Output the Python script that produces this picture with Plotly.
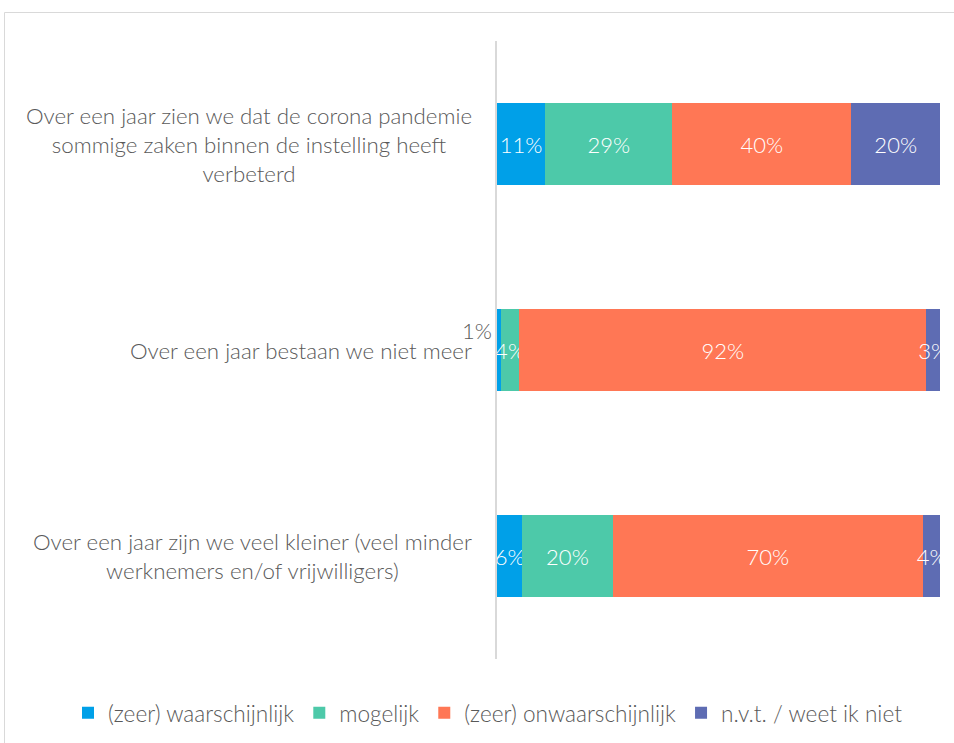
import plotly.graph_objects as go

# ---- data ----
categories = [
    "Over een jaar zien we dat de corona pandemie<br>sommige zaken binnen de instelling heeft<br>verbeterd",
    "Over een jaar bestaan we niet meer",
    "Over een jaar zijn we veel kleiner (veel minder<br>werknemers en/of vrijwilligers)",
]
series_names = ["(zeer) waarschijnlijk", "mogelijk", "(zeer) onwaarschijnlijk", "n.v.t. / weet ik niet"]
waarschijnlijk = [10.9, 0.9, 5.7]
mogelijk = [28.7, 4.1, 20.4]
onwaarschijnlijk = [40.4, 91.9, 70.1]
nvt = [20.0, 3.1, 3.8]

series_values = [waarschijnlijk, mogelijk, onwaarschijnlijk, nvt]
colors = ["#00A0E8", "#4DC9A9", "#FF7755", "#5E6CB3"]

FONT = "Lato"
W, H = 954, 743
ML, MR, MT, MB = 497, 14, 41, 84

fig = go.Figure()
for name, vals, col in zip(series_names, series_values, colors):
    texts = [f"{v:.0f}%" if v >= 2 else "" for v in vals]
    fig.add_trace(go.Bar(
        y=categories, x=vals, name=name, orientation="h",
        marker=dict(color=col, line=dict(width=0)),
        text=texts, textposition="inside", insidetextanchor="middle",
        constraintext="none", cliponaxis=False, textangle=0,
        textfont=dict(family=FONT, size=22, color="white", weight=300),
        hoverinfo="x+name",
    ))

# small value shown outside, left of bar
for cat, v in zip(categories, waarschijnlijk):
    if v < 2:
        fig.add_annotation(x=0, y=cat, xref="x", yref="y", text=f"{v:.0f}%",
                           showarrow=False, xanchor="right", yanchor="middle",
                           xshift=-3, yshift=20,
                           font=dict(family=FONT, size=22, color="#595959", weight=300))

# category labels (centered multi-line, right-anchored)
for cat in categories:
    fig.add_annotation(x=0, y=cat, xref="paper", yref="y", text=cat,
                       showarrow=False, xanchor="right", yanchor="middle",
                       align="center", xshift=-23,
                       font=dict(family=FONT, size=22.3, color="#595959", weight=300))

# outer frame (top and left edges visible)
px = lambda X: (X - ML) / (W - ML - MR)
py = lambda Y: 1 - (Y - MT) / (H - MT - MB)
fig.add_shape(type="line", xref="paper", yref="paper", x0=px(4.5), x1=px(W + 5), y0=py(12.5), y1=py(12.5),
              line=dict(color="#D9D9D9", width=1))
fig.add_shape(type="line", xref="paper", yref="paper", x0=px(4.5), x1=px(4.5), y0=py(12.5), y1=py(H + 5),
              line=dict(color="#D9D9D9", width=1))

fig.update_layout(
    width=W, height=H,
    margin=dict(l=ML, r=MR, t=MT, b=MB, autoexpand=False),
    barmode="stack", bargap=0.6,
    plot_bgcolor="white", paper_bgcolor="white",
    font=dict(family=FONT, size=22, color="#595959", weight=300),
    xaxis=dict(range=[0, 100], showgrid=False, zeroline=False, showticklabels=False,
               showline=False, fixedrange=True),
    yaxis=dict(autorange="reversed", showticklabels=False, showgrid=False, zeroline=False,
               showline=True, linecolor="#D9D9D9", linewidth=1.5, ticks=""),
    showlegend=True,
    legend=dict(orientation="h", xref="paper", yref="paper", x=px(68), y=py(713),
                xanchor="left", yanchor="middle",
                font=dict(family=FONT, size=22.6, color="#595959", weight=300),
                itemwidth=30, traceorder="normal"),
)

fig.write_html("out.html", config={"displayModeBar": False},
               post_script="document.body.style.margin='0px';document.body.style.overflow='hidden';")
